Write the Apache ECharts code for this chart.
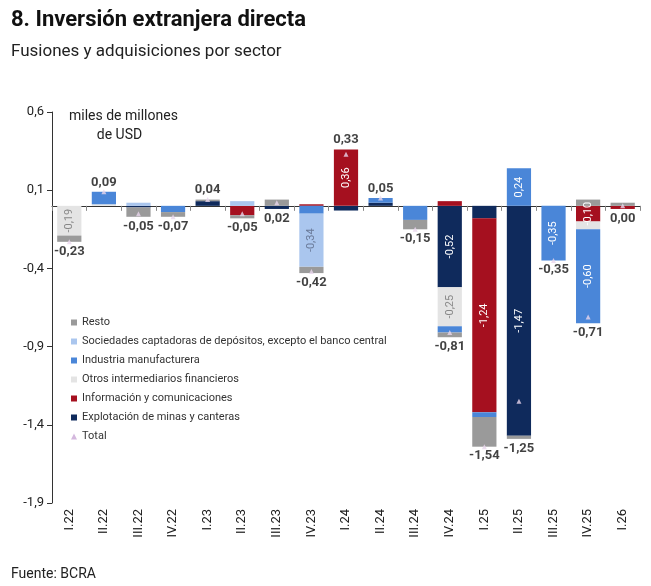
<!DOCTYPE html>
<html>
<head>
<meta charset="utf-8">
<script src="https://cdn.jsdelivr.net/npm/echarts@6/dist/echarts.min.js"></script>
<style>
html,body{margin:0;padding:0;background:#fff;}
#chart{width:651px;height:586px;}
</style>
</head>
<body>
<div id="chart"></div>
<script>
// 季度
const quarters = ['I.22','II.22','III.22','IV.22','I.23','II.23','III.23','IV.23','I.24','II.24','III.24','IV.24','I.25','II.25','III.25','IV.25','I.26'];
// 各部门 (stack order from zero outward)
const minas      = [0, 0, -0.01, 0, 0.03, 0, -0.02, 0, -0.03, 0.02, 0, -0.52, -0.08, -1.47, 0, 0, 0];
const info       = [0, 0, 0, 0, 0, -0.06, 0, 0.01, 0.36, 0, 0, 0.03, -1.24, 0, 0, -0.10, -0.02];
const otros      = [-0.19, 0.01, 0, 0, 0, 0, 0, 0, 0, 0, 0, -0.25, 0, 0, 0, -0.05, 0];
const industria  = [0, 0.08, 0, -0.04, 0, 0, 0, -0.05, 0, 0.03, -0.09, -0.04, -0.03, 0.24, -0.35, -0.60, 0];
const sociedades = [0, 0, 0.02, 0, 0, 0.03, 0, -0.34, 0, 0, 0, 0, 0, 0, 0, 0, 0];
const resto      = [-0.04, 0, -0.06, -0.03, 0.01, -0.02, 0.04, -0.04, 0, 0, -0.06, -0.03, -0.19, -0.02, 0, 0.04, 0.02];
const total      = [-0.23, 0.09, -0.05, -0.07, 0.04, -0.05, 0.02, -0.42, 0.33, 0.05, -0.15, -0.81, -1.54, -1.25, -0.35, -0.71, 0.00];
const yTicks = [-1.9, -1.4, -0.9, -0.4, 0.1, 0.6];

const fmt = v => v.toFixed(2).replace('.', ',');

const chart = echarts.init(document.getElementById('chart'));

function stackSeries(name, data, color, labelColor, showLbl) {
    return {
        name: name,
        type: 'bar',
        stack: 'total',
        xAxisIndex: 0,
        barWidth: '70%',
        itemStyle: { color: color },
        label: {
            show: showLbl,
            rotate: 90,
            position: 'inside',
            color: labelColor,
            fontSize: 11,
            formatter: p => Math.abs(p.value) >= 0.1 ? fmt(p.value) : ''
        },
        data: data
    };
}

const seriesDefs = [
    ['Explotación de minas y canteras', minas, '#0f2a5c', '#fff', true],
    ['Información y comunicaciones', info, '#a5101f', '#fff', true],
    ['Otros intermediarios financieros', otros, '#e4e4e4', '#888', true],
    ['Industria manufacturera', industria, '#4a86d8', '#fff', true],
    ['Sociedades captadoras de depósitos, excepto el banco central', sociedades, '#aac6ee', '#6a7a99', true],
    ['Resto', resto, '#9a9a9a', '#fff', false]
];
const all = [minas, info, otros, industria, sociedades, resto];

// 标签位置: 柱子端点
const labelPts = quarters.map((q, i) => {
    let pos = 0, neg = 0;
    all.forEach(a => { if (a[i] > 0) pos += a[i]; else neg += a[i]; });
    const up = total[i] > 0 && i !== 6;
    return {
        value: [i, up ? pos : neg],
        label: { position: up ? 'top' : 'bottom', distance: 3 }
    };
});

const series = seriesDefs.map(d => stackSeries(d[0], d[1], d[2], d[3], d[4]));
series.push({
    name: 'Total',
    type: 'scatter',
    symbol: 'triangle',
    symbolSize: 5,
    itemStyle: { color: '#e8d6ec' },
    z: 10,
    data: total
});
series.push({
    name: 'lbl',
    type: 'scatter',
    symbolSize: 0,
    z: 11,
    label: {
        show: true,
        fontWeight: 'bold',
        fontSize: 13,
        color: '#111',
        formatter: p => fmt(total[p.dataIndex])
    },
    data: labelPts
});

chart.setOption({
    animation: false,
    textStyle: { fontFamily: 'Roboto' },
    title: [
        { text: '8. Inversión extranjera directa', left: 6, top: 4,
          textStyle: { fontSize: 22, fontWeight: 'bold', color: '#111', fontFamily: 'Roboto' } },
        { text: 'Fusiones y adquisiciones por sector', left: 6, top: 38,
          textStyle: { fontSize: 17, fontWeight: 'normal', color: '#222', fontFamily: 'Roboto' } },
        { text: 'miles de millones\n        de USD', left: 64, top: 102,
          textStyle: { fontSize: 14, fontWeight: 'normal', color: '#222', lineHeight: 19 } },
        { text: 'Fuente: BCRA', left: 6, top: 562,
          textStyle: { fontSize: 14, fontWeight: 'normal', color: '#222' } }
    ],
    legend: {
        orient: 'vertical',
        left: 66,
        top: 312,
        itemGap: 8,
        itemWidth: 6,
        itemHeight: 6,
        textStyle: { fontSize: 11, color: '#333' },
        data: [
            { name: 'Resto', icon: 'rect' },
            { name: 'Sociedades captadoras de depósitos, excepto el banco central', icon: 'rect' },
            { name: 'Industria manufacturera', icon: 'rect' },
            { name: 'Otros intermediarios financieros', icon: 'rect' },
            { name: 'Información y comunicaciones', icon: 'rect' },
            { name: 'Explotación de minas y canteras', icon: 'rect' },
            { name: 'Total', icon: 'triangle', itemStyle: { color: '#c9a6d6' } }
        ]
    },
    grid: { left: 52, right: 11, top: 112, bottom: 83 },
    xAxis: [
        {
            type: 'category',
            data: quarters,
            axisLine: { onZero: true, lineStyle: { color: '#333' } },
            axisTick: { show: true, lineStyle: { color: '#888' } },
            axisLabel: { show: false }
        },
        {
            type: 'category',
            data: quarters,
            position: 'bottom',
            axisLine: { show: false, onZero: false },
            axisTick: { show: false },
            axisLabel: { rotate: 90, fontSize: 13, color: '#222', margin: 6 }
        }
    ],
    yAxis: {
        type: 'value',
        min: -1.9,
        max: 0.6,
        splitLine: { show: false },
        axisLine: { show: true, lineStyle: { color: '#333' } },
        axisTick: { show: true, customValues: yTicks, lineStyle: { color: '#333' } },
        axisLabel: { customValues: yTicks, fontSize: 13, color: '#222', formatter: v => v.toFixed(1).replace('.', ',') }
    },
    series: series
});
</script>
</body>
</html>
